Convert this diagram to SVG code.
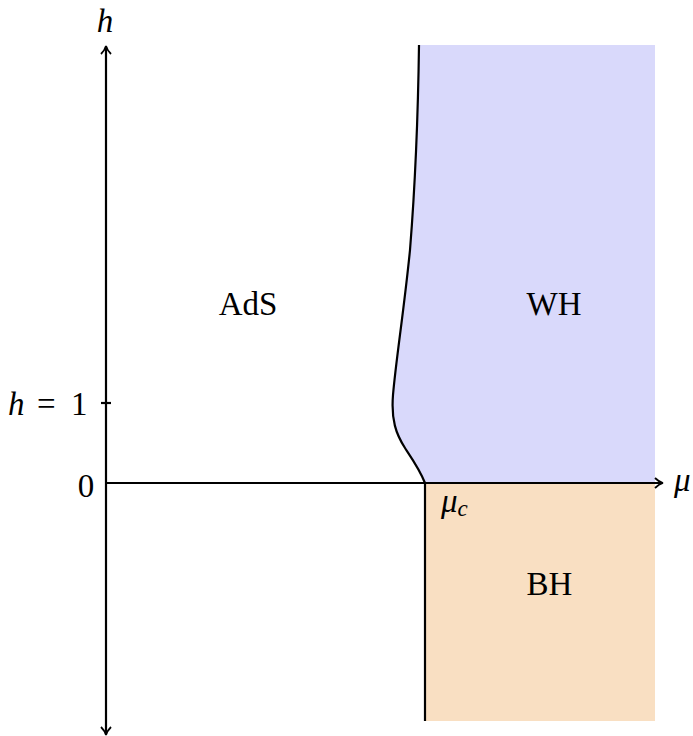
<svg xmlns="http://www.w3.org/2000/svg" width="693" height="736" viewBox="0 0 693 736">
<defs>
<style>
.ax{stroke:#000;stroke-width:2.2;fill:none}
.t{font-family:"Liberation Serif","DejaVu Serif",serif;font-size:33px;fill:#000}
.i{font-style:italic}
</style>
<marker id="arr" markerWidth="12" markerHeight="12" refX="9" refY="6" orient="auto" markerUnits="userSpaceOnUse">
<path d="M2,1 Q6,5 10,6 Q6,7 2,11" fill="none" stroke="#000" stroke-width="1.8"/>
</marker>
</defs>
<rect width="693" height="736" fill="#fff"/>
<g id="region-WH">
<path d="M419,45 L655,45 L655,483 L425,483 C420,470 413,460 405,448 C396,434 391,420 393,395 C396,360 404,310 410,250 C414,200 418,120 419,45 Z" fill="#d9d9fb"/>
<text class="t" x="554" y="315" text-anchor="middle">WH</text>
</g>
<g id="region-BH">
<rect x="425" y="483" width="230" height="238" fill="#f9dfc2"/>
<text class="t" x="549.5" y="595" text-anchor="middle">BH</text>
</g>
<g id="region-AdS">
<text class="t" x="248" y="315" text-anchor="middle">AdS</text>
</g>
<g id="connectors">
<line class="ax" x1="106" y1="483" x2="106" y2="47" marker-end="url(#arr)"/>
<line class="ax" x1="106" y1="483" x2="106" y2="734" marker-end="url(#arr)"/>
<line class="ax" x1="106" y1="483" x2="662" y2="483" marker-end="url(#arr)"/>
<line class="ax" x1="101" y1="403" x2="111" y2="403"/>
<path class="ax" d="M419,45 C418,120 414,200 410,250 C404,310 396,360 393,395 C391,420 396,434 405,448 C413,460 420,470 425,483"/>
<line class="ax" x1="425" y1="483" x2="425" y2="721"/>
</g>
<g id="labels">
<text class="t i" x="105" y="32" text-anchor="middle">h</text>
<text class="t"><tspan class="i" x="8" y="415">h</tspan><tspan x="37" y="415">=</tspan><tspan x="71" y="415">1</tspan></text>
<text class="t" x="86" y="497" text-anchor="middle">0</text>
<text class="t i" x="674" y="491">μ</text>
<text class="t i" x="441" y="512">μ<tspan font-size="23" dy="4">c</tspan></text>
</g>
</svg>
